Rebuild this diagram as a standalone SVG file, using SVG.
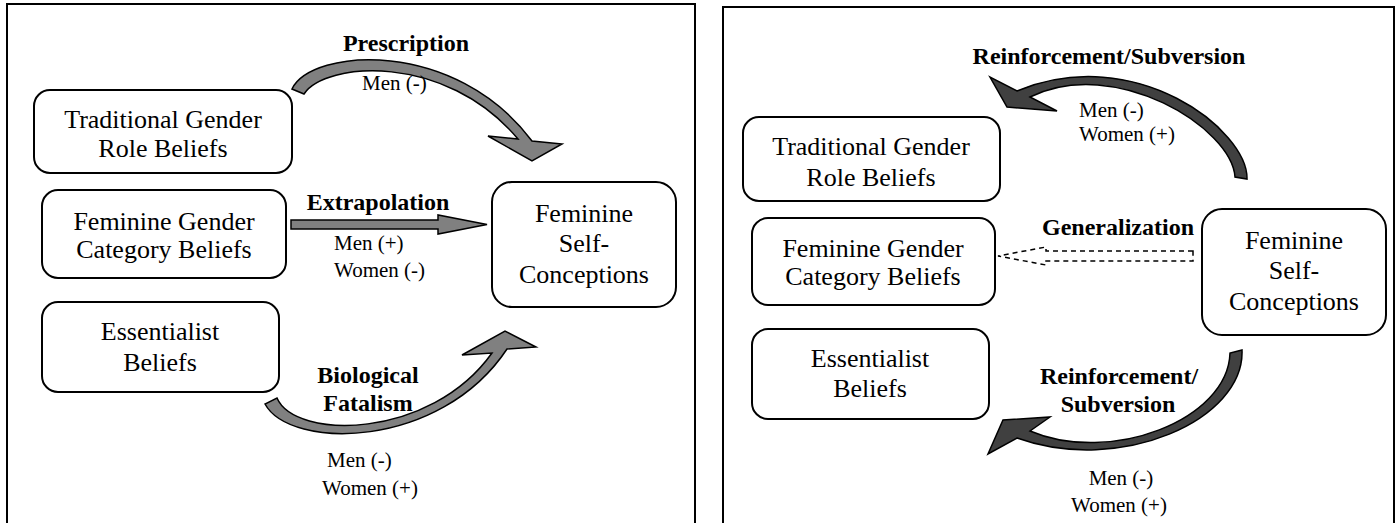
<svg xmlns="http://www.w3.org/2000/svg" width="1399" height="523" viewBox="0 0 1399 523">
<style>
.frame{fill:none;stroke:#000;stroke-width:2}
.box{fill:#fff;stroke:#000;stroke-width:2}
.bt{font-family:"Liberation Serif","Times New Roman",serif;font-size:26px;fill:#000;text-anchor:middle}
.lb{font-family:"Liberation Serif","Times New Roman",serif;font-size:24px;font-weight:bold;fill:#000;text-anchor:middle}
.sm{font-family:"Liberation Serif","Times New Roman",serif;font-size:21px;fill:#000}
.ga{fill:#808080;stroke:#000;stroke-width:1.5;stroke-linejoin:miter}
.da{fill:#404040;stroke:#000;stroke-width:1.5}
.dash{fill:#fff;stroke:#000;stroke-width:1.5;stroke-dasharray:5,4}
</style>
<rect width="1399" height="523" fill="#fff"/>
<rect class="frame" x="7" y="4" width="688" height="530"/>
<rect class="frame" x="723" y="7" width="671" height="530"/>

<g id="l-trad">
<rect class="box" x="34" y="90" width="258" height="83" rx="16"/>
<text class="bt" x="163" y="128">Traditional Gender</text>
<text class="bt" x="163" y="157">Role Beliefs</text>
</g>
<g id="l-fem">
<rect class="box" x="42" y="190" width="244" height="88" rx="16"/>
<text class="bt" x="164" y="230">Feminine Gender</text>
<text class="bt" x="164" y="258">Category Beliefs</text>
</g>
<g id="l-ess">
<rect class="box" x="42" y="302" width="237" height="90" rx="16"/>
<text class="bt" x="160" y="340">Essentialist</text>
<text class="bt" x="160" y="371">Beliefs</text>
</g>
<g id="l-self">
<rect class="box" x="492" y="182" width="184" height="125" rx="20"/>
<text class="bt" x="584" y="222">Feminine</text>
<text class="bt" x="584" y="252">Self-</text>
<text class="bt" x="584" y="283">Conceptions</text>
</g>

<g id="r-trad">
<rect class="box" x="743" y="117" width="257" height="84" rx="16"/>
<text class="bt" x="871" y="155">Traditional Gender</text>
<text class="bt" x="871" y="186">Role Beliefs</text>
</g>
<g id="r-fem">
<rect class="box" x="752" y="218" width="243" height="87" rx="16"/>
<text class="bt" x="873" y="257">Feminine Gender</text>
<text class="bt" x="873" y="285">Category Beliefs</text>
</g>
<g id="r-ess">
<rect class="box" x="752" y="329" width="237" height="90" rx="16"/>
<text class="bt" x="870" y="367">Essentialist</text>
<text class="bt" x="870" y="397">Beliefs</text>
</g>
<g id="r-self">
<rect class="box" x="1202" y="209" width="184" height="126" rx="20"/>
<text class="bt" x="1294" y="249">Feminine</text>
<text class="bt" x="1294" y="279">Self-</text>
<text class="bt" x="1294" y="310">Conceptions</text>
</g>

<g id="connectors">
<path class="ga" d="M292,89 C312,48 455,38 532,141 L562,144 L532,161 L488,136 L518,139 C445,52 325,62 304,94 Z"/>
<path class="ga" d="M291,220 L438,220 L438,215 L487,224.5 L438,234 L438,229 L291,229 Z"/>
<path class="ga" d="M277,398 C295,440 430,440 492,353 L462,355 L505,331 L536,347 L507,349 C440,450 290,450 265,404 Z"/>
<path class="da" d="M1247,179 C1248,130 1135,42 1017,91 L990,77 L1007,107 L1057,111 L1030,97 C1115,55 1232,128 1235,177 Z"/>
<path class="dash" d="M1193,251 L1046,251 L1046,247 L998,256 L1046,265 L1046,261 L1193,261 Z"/>
<path class="da" d="M1242,350 C1245,420 1120,475 1017,438 L988,454 L1003,420 L1050,417 L1030,431 C1110,465 1228,420 1230,353 Z"/>

<text class="lb" x="406" y="51">Prescription</text>
<text class="sm" x="362" y="90">Men (-)</text>
<text class="lb" x="378" y="210">Extrapolation</text>
<text class="sm" x="334" y="250">Men (+)</text>
<text class="sm" x="334" y="277">Women (-)</text>
<text class="lb" x="368" y="383">Biological</text>
<text class="lb" x="368" y="411">Fatalism</text>
<text class="sm" x="327" y="467">Men (-)</text>
<text class="sm" x="322" y="495">Women (+)</text>

<text class="lb" x="1109" y="64">Reinforcement/Subversion</text>
<text class="sm" x="1079" y="117">Men (-)</text>
<text class="sm" x="1079" y="141">Women (+)</text>
<text class="lb" x="1118" y="235">Generalization</text>
<text class="lb" x="1119" y="384">Reinforcement/</text>
<text class="lb" x="1118" y="412">Subversion</text>
<text class="sm" x="1121" y="485" text-anchor="middle">Men (-)</text>
<text class="sm" x="1119" y="512" text-anchor="middle">Women (+)</text>
</g>
</svg>
